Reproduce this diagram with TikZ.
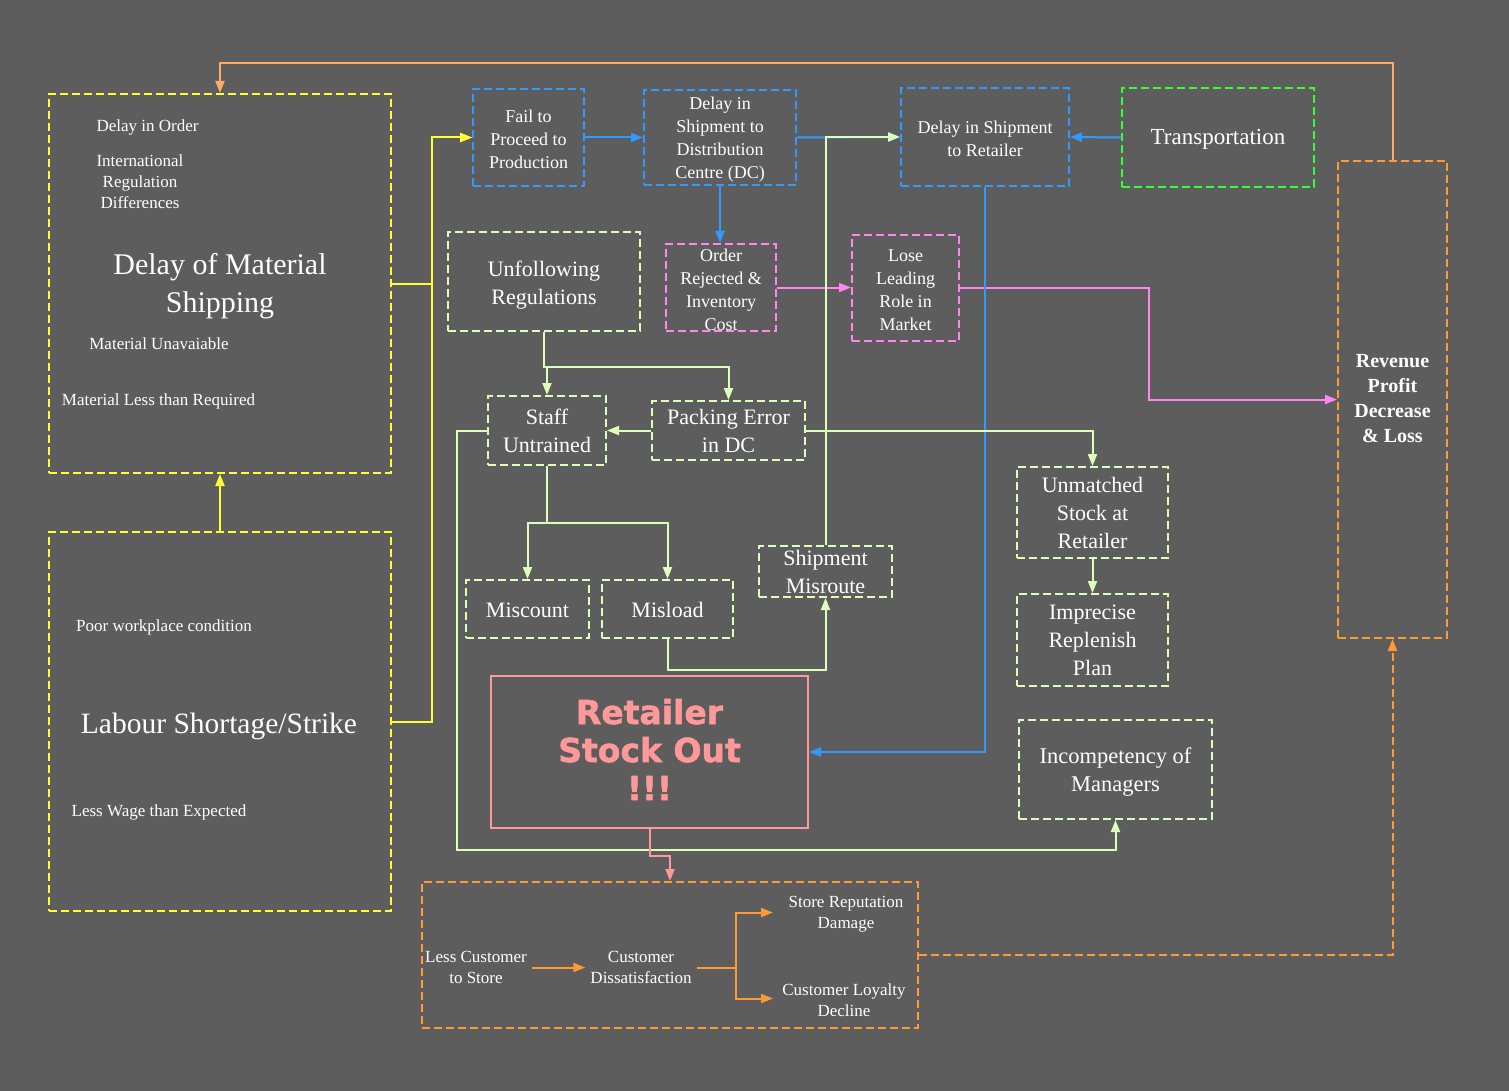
\documentclass[tikz,border=0pt]{standalone}
\usepackage{fontspec}
\setmainfont{Liberation Serif}
\newfontfamily\heavyfont{DejaVu Sans}[BoldFeatures={FakeBold=1.5}]
\usetikzlibrary{arrows.meta}
\definecolor{bgc}{HTML}{5D5D5D}
\definecolor{ylw}{HTML}{FFFF33}
\definecolor{blu}{HTML}{3399FF}
\definecolor{grn}{HTML}{33FF33}
\definecolor{pnk}{HTML}{FF88F0}
\definecolor{org}{HTML}{FF9933}
\definecolor{orglt}{HTML}{FFAA66}
\definecolor{lgr}{HTML}{DDFFBB}
\definecolor{sored}{HTML}{FF9999}
\begin{document}
\begin{tikzpicture}[x=1pt,y=-1pt,
  box/.style={draw, line width=2pt, dash pattern=on 8pt off 4pt, inner sep=0pt, anchor=center},
  solidbox/.style={draw, line width=2pt, inner sep=0pt, anchor=center},
  txt/.style={text=white, align=center, inner sep=0pt, anchor=center, yshift=-2pt},
  tA/.style={font=\fontsize{17}{21}\selectfont},
  tB/.style={font=\fontsize{18}{23}\selectfont},
  tC/.style={font=\fontsize{22}{28}\selectfont},
  tBig/.style={font=\fontsize{30}{38}\selectfont},
  conn/.style={line width=2pt, -{Triangle[length=12pt,width=9pt]}},
  plain/.style={line width=2pt}
]
\fill[bgc] (0,0) rectangle (1509,1091);
\useasboundingbox (0,0) rectangle (1509,1091);

% ---- big yellow boxes
\node[box, draw=ylw, minimum width=342pt, minimum height=379pt] (dms) at (220,283.5) {};
\node[box, draw=ylw, minimum width=342pt, minimum height=379pt] (lab) at (220,721.5) {};
\node[txt,tA] (dmsA) at (147.5,125) {Delay in Order};
\node[txt,tA] (dmsB) at (140,180) {International\\Regulation\\Differences};
\node[txt,tBig] (dmsT) at (220,284) {Delay of Material\\Shipping};
\node[txt,tA] (dmsC) at (159,342) {Material Unavaiable};
\node[txt,tA] (dmsD) at (158.5,399) {Material Less than Required};
\node[txt,tA] (labA) at (164,625) {Poor workplace condition};
\node[txt,font=\fontsize{29.5}{34}\selectfont] (labT) at (219,724) {Labour Shortage/Strike};
\node[txt,tA] (labB) at (159,810) {Less Wage than Expected};

% ---- blue boxes
\node[box, draw=blu, minimum width=111pt, minimum height=97pt] (fail) at (528.5,137.5) {};
\node[txt,tB] (failT) at (fail) {Fail to\\Proceed to\\Production};
\node[box, draw=blu, minimum width=152pt, minimum height=95pt] (dc) at (720,137.5) {};
\node[txt,tB] (dcT) at (dc) {Delay in\\Shipment to\\Distribution\\Centre (DC)};
\node[box, draw=blu, minimum width=168pt, minimum height=98pt] (ret) at (985,137) {};
\node[txt,tB] (retT) at (ret) {Delay in Shipment\\to Retailer};
\node[box, draw=grn, minimum width=192pt, minimum height=99pt] (trans) at (1218,137.5) {};
\node[txt,font=\fontsize{23}{28}\selectfont] (transT) at (trans) {Transportation};

% ---- pink boxes
\node[box, draw=pnk, minimum width=110pt, minimum height=87pt] (ord) at (721,287.5) {};
\node[txt,tB] (ordT) at (ord) {Order\\Rejected \&\\Inventory\\Cost};
\node[box, draw=pnk, minimum width=107pt, minimum height=106pt] (lose) at (905.5,288) {};
\node[txt,tB] (loseT) at (lose) {Lose\\Leading\\Role in\\Market};

% ---- revenue
\node[box, draw=org, minimum width=109pt, minimum height=477pt] (rev) at (1392.5,399.5) {};
\node[txt,font=\fontsize{20}{25}\selectfont\bfseries] (revT) at (1392.5,397) {Revenue\\Profit\\Decrease\\\& Loss};

% ---- light green boxes
\node[box, draw=lgr, minimum width=192pt, minimum height=99pt] (unf) at (544,281.5) {};
\node[txt,tC] (unfT) at ([yshift=-1.5pt]unf.center) {Unfollowing\\Regulations};
\node[box, draw=lgr, minimum width=118pt, minimum height=69pt] (staff) at (547,430.5) {};
\node[txt,tC] (staffT) at ([yshift=1.5pt]staff.center) {Staff\\Untrained};
\node[box, draw=lgr, minimum width=153pt, minimum height=59pt] (pack) at (728.5,430.5) {};
\node[txt,tC] (packT) at ([yshift=1.5pt]pack.center) {Packing Error\\in DC};
\node[box, draw=lgr, minimum width=123pt, minimum height=58pt] (misc) at (527.5,609) {};
\node[txt,tC] (miscT) at ([yshift=1pt]misc.center) {Miscount};
\node[box, draw=lgr, minimum width=131pt, minimum height=58pt] (misl) at (667.5,609) {};
\node[txt,tC] (mislT) at ([yshift=1pt]misl.center) {Misload};
\node[box, draw=lgr, minimum width=133pt, minimum height=51pt] (misr) at (825.5,571.5) {};
\node[txt,tC] (misrT) at ([yshift=1.5pt]misr.center) {Shipment\\Misroute};
\node[box, draw=lgr, minimum width=151pt, minimum height=91pt] (unm) at (1092.5,512.5) {};
\node[txt,tC] (unmT) at ([yshift=1.5pt]unm.center) {Unmatched\\Stock at\\Retailer};
\node[box, draw=lgr, minimum width=151pt, minimum height=92pt] (imp) at (1092.5,640) {};
\node[txt,tC] (impT) at ([yshift=1.5pt]imp.center) {Imprecise\\Replenish\\Plan};
\node[box, draw=lgr, minimum width=193pt, minimum height=99pt] (inc) at (1115.5,769.5) {};
\node[txt,font=\fontsize{22.5}{28}\selectfont] (incT) at (inc) {Incompetency of\\Managers};

% ---- stock out
\node[solidbox, draw=sored, minimum width=317pt, minimum height=152pt] (so) at (649.5,752) {};
\node[txt, text=sored, font=\fontsize{33}{38}\selectfont\heavyfont\bfseries] (soT) at (649.5,747.5) {Retailer\\Stock Out\\!!!};

% ---- bottom orange box
\node[box, draw=org, minimum width=496pt, minimum height=146pt] (bot) at (670,955) {};
\node[txt,tA,inner xsep=5pt] (lc) at (476,965.5) {Less Customer\\to Store};
\node[txt,tA,inner xsep=5pt] (cd) at (641,965.5) {Customer\\Dissatisfaction};
\node[txt,tA] (srd) at (846,912.5) {Store Reputation\\Damage};
\node[txt,tA] (cld) at (844,998.5) {Customer Loyalty\\Decline};
\coordinate (srdin) at (773,912.5);
\coordinate (cldin) at (773,998.5);

% ---- connectors
\draw[conn, ylw] (lab.north) -- (dms.south);
\draw[conn, ylw] (dms.east) -- ++(40,0) |- (fail.west);
\draw[conn, ylw] (lab.east) -- ++(40,0) |- (fail.west);
\draw[conn, blu] (fail.east) -- (dc.west);
\draw[conn, blu] (dc.east) -- (ret.west);
\draw[conn, blu] (trans.west) -- (ret.east);
\draw[conn, blu] (dc.south) -- (dc.south |- ord.north);
\draw[conn, pnk] (ord.east) -- (ord.east -| lose.west);
\draw[conn, pnk] (lose.east) -- ++(189,0) |- (rev.west);
\draw[conn, orglt] (rev.north) -- ++(0,-97) -| (dms.north);
\draw[conn, blu] (ret.south) |- (so.east);
\draw[conn, lgr] (unf.south) -- ++(0,35) -| (pack.north);
\draw[conn, lgr] (unf.south) ++(0,35) -| (staff.north);
\draw[conn, lgr] (pack.west) -- (pack.west -| staff.east);
\draw[conn, lgr] (pack.east) -| (unm.north);
\draw[conn, lgr] (unm.south) -- (imp.north);
\draw[conn, lgr] (staff.west) -| ++(-30,419) -| (inc.south);
\draw[conn, lgr] (staff.south) -- ++(0,57) -| (misc.north);
\draw[conn, lgr] (staff.south) ++(0,57) -| (misl.north);
\draw[conn, lgr] (misl.south) -- ++(0,31) -| (misr.south);
\draw[conn, lgr] (misr.north) |- (ret.west);
\draw[conn, sored] (so.south) -- ++(0,27) -| (bot.north);
\draw[conn, org, dash pattern=on 8pt off 4pt] (bot.east) -| (rev.south);
\draw[conn, org] (lc.east) -- (cd.west);
\draw[plain, org] (cd.east) -- ++(39,0) coordinate (br);
\draw[conn, org] (br) |- (srdin);
\draw[conn, org] (br) |- (cldin);
\end{tikzpicture}
\end{document}
